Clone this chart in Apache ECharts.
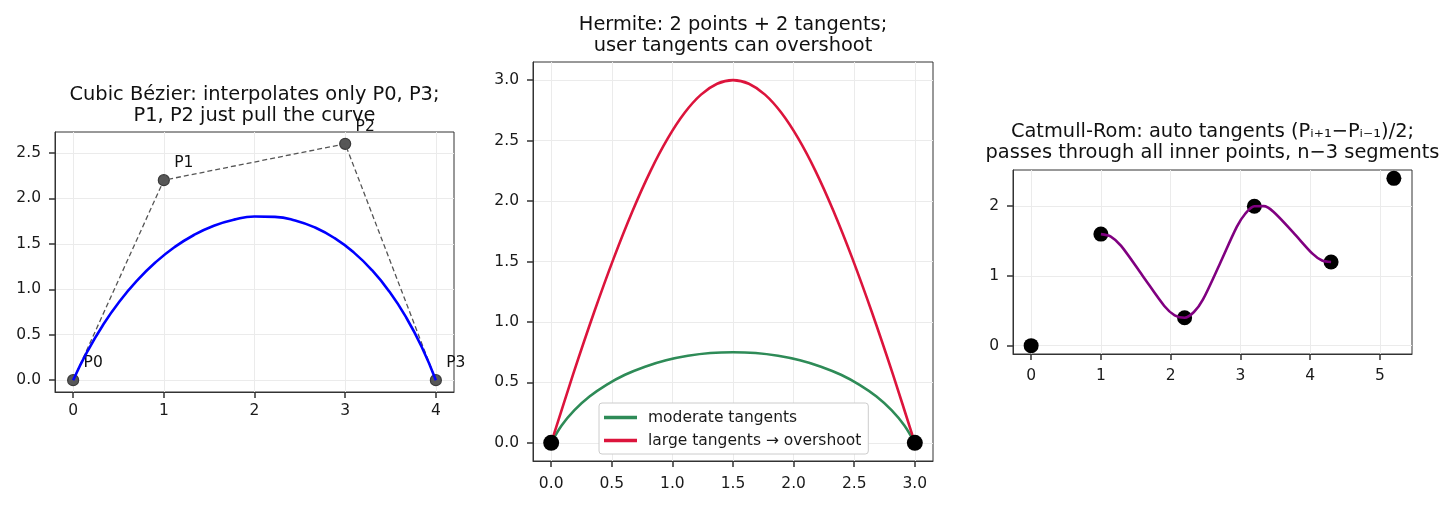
<!DOCTYPE html>
<html>
<head>
<meta charset="utf-8">
<title>Spline comparison</title>
<script src="https://cdn.jsdelivr.net/npm/echarts@6.0.0/dist/echarts.min.js"></script>
<style>
    html, body { margin: 0; padding: 0; background: #fff; }
    #chart { width: 1454px; height: 507px; }
</style>
</head>
<body>
<div id="chart"></div>
<script>
// ---- data ----
// panel 1: cubic bezier
var bezierCtrlX = [0, 1, 3, 4];
var bezierCtrlY = [0, 2.2, 2.6, 0];
var bezierCtrlLabels = ['P0', 'P1', 'P2', 'P3'];
var bezierCurveX = [0, 0.157, 0.328, 0.511, 0.704, 0.906, 1.116, 1.332, 1.552, 1.775, 2.0, 2.225, 2.448, 2.668, 2.884, 3.094, 3.296, 3.489, 3.672, 3.843, 4];
var bezierCurveY = [0, 0.316, 0.605, 0.865, 1.094, 1.294, 1.462, 1.597, 1.699, 1.766, 1.8, 1.796, 1.757, 1.679, 1.562, 1.406, 1.21, 0.972, 0.691, 0.368, 0];
var bezierXTicks = [0, 1, 2, 3, 4];
var bezierYTicks = [0, 0.5, 1, 1.5, 2, 2.5];

// panel 2: hermite
var hermiteEndX = [0, 3];
var hermiteEndY = [0, 0];
var moderateX = [0, 0.086, 0.192, 0.316, 0.456, 0.609, 0.774, 0.948, 1.128, 1.313, 1.5, 1.687, 1.872, 2.052, 2.226, 2.391, 2.544, 2.684, 2.808, 2.914, 3];
var moderateY = [0, 0.143, 0.27, 0.383, 0.48, 0.563, 0.63, 0.683, 0.72, 0.743, 0.75, 0.743, 0.72, 0.683, 0.63, 0.563, 0.48, 0.383, 0.27, 0.143, 0];
var largeX = [0, 0.182, 0.354, 0.517, 0.672, 0.82, 0.963, 1.101, 1.236, 1.369, 1.5, 1.631, 1.764, 1.899, 2.037, 2.18, 2.328, 2.483, 2.646, 2.818, 3];
var largeY = [0, 0.57, 1.08, 1.53, 1.92, 2.25, 2.52, 2.73, 2.88, 2.97, 3.0, 2.97, 2.88, 2.73, 2.52, 2.25, 1.92, 1.53, 1.08, 0.57, 0];
var hermiteTicks = [0, 0.5, 1, 1.5, 2, 2.5, 3];

// panel 3: catmull-rom
var catmullPtsX = [0, 1, 2.2, 3.2, 4.3, 5.2];
var catmullPtsY = [0, 1.6, 0.4, 2.0, 1.2, 2.4];
var catmullCurveX = [1, 1.142, 1.29, 1.6, 1.909, 2.058, 2.2, 2.334, 2.462, 2.706, 2.948, 3.072, 3.2, 3.334, 3.473, 3.756, 4.037, 4.171, 4.3];
var catmullCurveY = [1.6, 1.565, 1.431, 1.0, 0.569, 0.435, 0.4, 0.482, 0.659, 1.175, 1.703, 1.896, 2.0, 2.001, 1.922, 1.625, 1.316, 1.221, 1.2];
var catmullXTicks = [0, 1, 2, 3, 4, 5];
var catmullYTicks = [0, 1, 2];

var FONT = 'DejaVu Sans';

function pairs(xs, ys) {
    var out = [];
    for (var i = 0; i < xs.length; i++) {
        out.push([xs[i], ys[i]]);
    }
    return out;
}

function fixed1(v) { return v.toFixed(1); }
function plain(v) { return String(v); }

// value axis with matplotlib-like ticks / grid
function makeAxis(gridIndex, min, max, ticks, fmt, margin) {
    return {
        type: 'value',
        gridIndex: gridIndex,
        min: min,
        max: max,
        axisLine: { show: true, onZero: false, lineStyle: { color: '#333', width: 1 } },
        axisTick: {
            show: true,
            length: 6,
            customValues: ticks,
            lineStyle: { color: '#333', width: 1.5 }
        },
        axisLabel: {
            customValues: ticks,
            formatter: fmt,
            margin: margin,
            color: '#1a1a1a',
            fontSize: 15.5,
            fontFamily: FONT
        },
        splitLine: {
            show: true,
            lineStyle: { color: '#ebebeb', width: 1 }
        }
    };
}

function makeTitle(text, cx, top) {
    return {
        text: text,
        left: cx,
        top: top,
        padding: 0,
        textAlign: 'center',
        textStyle: {
            fontFamily: FONT,
            fontSize: 19.4,
            fontWeight: 'normal',
            color: '#111',
            lineHeight: 21
        }
    };
}

var gridStyle = { show: true, borderColor: '#333', borderWidth: 1, backgroundColor: 'transparent' };

var option = {
    backgroundColor: '#fff',
    animation: false,
    title: [
        makeTitle('Cubic Bézier: interpolates only P0, P3;\nP1, P2 just pull the curve', 254.5, 84),
        makeTitle('Hermite: 2 points + 2 tangents;\nuser tangents can overshoot', 733, 14),
        makeTitle('Catmull-Rom: auto tangents (Pᵢ₊₁−Pᵢ₋₁)/2;\npasses through all inner points, n−3 segments', 1212.5, 121)
    ],
    grid: [
        Object.assign({ left: 55, top: 132, width: 399, height: 260 }, gridStyle),
        Object.assign({ left: 533, top: 62, width: 400, height: 399 }, gridStyle),
        Object.assign({ left: 1013, top: 170, width: 399, height: 184 }, gridStyle)
    ],
    xAxis: [
        makeAxis(0, -0.2, 4.2, bezierXTicks, plain, 11),
        makeAxis(1, -0.15, 3.15, hermiteTicks, fixed1, 15),
        makeAxis(2, -0.26, 5.46, catmullXTicks, plain, 14)
    ],
    yAxis: [
        makeAxis(0, -0.13, 2.73, bezierYTicks, fixed1, 14),
        makeAxis(1, -0.15, 3.15, hermiteTicks, fixed1, 14),
        makeAxis(2, -0.12, 2.52, catmullYTicks, plain, 14)
    ],
    legend: {
        data: ['moderate tangents', 'large tangents → overshoot'],
        orient: 'vertical',
        left: 599,
        top: 403,
        icon: 'rect',
        itemWidth: 33,
        itemHeight: 3.5,
        itemGap: 6,
        padding: [6, 7, 5, 5],
        backgroundColor: '#fff',
        borderColor: '#cccccc',
        borderWidth: 1,
        borderRadius: 3,
        selectedMode: false,
        textStyle: {
            fontFamily: FONT,
            fontSize: 15.5,
            color: '#1a1a1a',
            lineHeight: 17,
            padding: [0, 0, 0, 6]
        }
    },
    series: [
        // panel 1
        {
            type: 'scatter',
            xAxisIndex: 0, yAxisIndex: 0,
            data: pairs(bezierCtrlX, bezierCtrlY),
            symbolSize: 11,
            itemStyle: { color: '#575757', borderColor: '#3a3a3a', borderWidth: 1.2, opacity: 1 },
            label: {
                show: true,
                formatter: function (p) { return bezierCtrlLabels[p.dataIndex]; },
                position: [16.5, -3],
                align: 'left',
                verticalAlign: 'bottom',
                fontFamily: FONT,
                fontSize: 15.5,
                color: '#111'
            },
            z: 2
        },
        {
            type: 'line',
            xAxisIndex: 0, yAxisIndex: 0,
            data: pairs(bezierCtrlX, bezierCtrlY),
            showSymbol: false,
            lineStyle: { color: '#555', width: 1.3, type: [5, 3] },
            z: 3
        },
        {
            type: 'line',
            xAxisIndex: 0, yAxisIndex: 0,
            data: pairs(bezierCurveX, bezierCurveY),
            showSymbol: false,
            smooth: 0.5,
            lineStyle: { color: '#0000ff', width: 2.6 },
            z: 4
        },
        // panel 2
        {
            name: 'moderate tangents',
            type: 'line',
            xAxisIndex: 1, yAxisIndex: 1,
            data: pairs(moderateX, moderateY),
            showSymbol: false,
            smooth: 0.3,
            color: '#2e8b57',
            lineStyle: { color: '#2e8b57', width: 2.6 },
            z: 3
        },
        {
            name: 'large tangents → overshoot',
            type: 'line',
            xAxisIndex: 1, yAxisIndex: 1,
            data: pairs(largeX, largeY),
            showSymbol: false,
            smooth: 0.3,
            color: '#dc143c',
            lineStyle: { color: '#dc143c', width: 2.6 },
            z: 3
        },
        {
            type: 'scatter',
            xAxisIndex: 1, yAxisIndex: 1,
            data: pairs(hermiteEndX, hermiteEndY),
            symbolSize: 16,
            itemStyle: { color: '#000', opacity: 1 },
            z: 5
        },
        // panel 3
        {
            type: 'scatter',
            xAxisIndex: 2, yAxisIndex: 2,
            data: pairs(catmullPtsX, catmullPtsY),
            symbolSize: 15,
            itemStyle: { color: '#000', opacity: 1 },
            z: 2
        },
        {
            type: 'line',
            xAxisIndex: 2, yAxisIndex: 2,
            data: pairs(catmullCurveX, catmullCurveY),
            showSymbol: false,
            smooth: 0.3,
            lineStyle: { color: '#800080', width: 2.6 },
            z: 4
        }
    ]
};

var myChart = echarts.init(document.getElementById('chart'), null, { renderer: 'canvas' });
myChart.setOption(option);
</script>
</body>
</html>
